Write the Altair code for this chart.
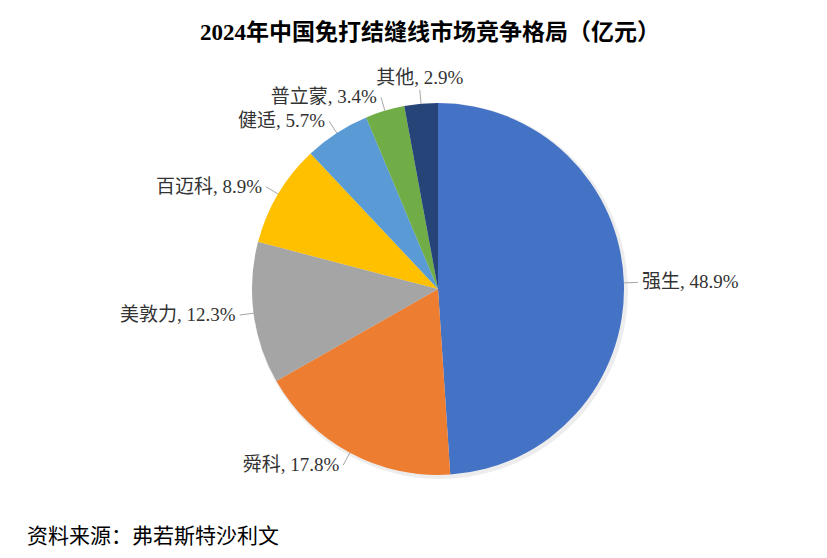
import altair as alt
import pandas as pd

TITLE = "2024年中国免打结缝线市场竞争格局（亿元）"
SOURCE = "资料来源：弗若斯特沙利文"
names = ["强生", "舜科", "美敦力", "百迈科", "健适", "普立蒙", "其他"]
shares = [48.9, 17.8, 12.3, 8.9, 5.7, 3.4, 2.9]
colors = ["#4472C4", "#ED7D31", "#A5A5A5", "#FFC000", "#5B9BD5", "#70AD47", "#264478"]

FONT = "Liberation Serif, Noto Sans CJK SC"
CX, CY, R, RL = 430, 281, 186, 200

df = pd.DataFrame({"name": names, "share": shares, "order": list(range(len(names)))})

shadow = alt.Chart(df).mark_arc(outerRadius=R + 2, color="#000000", opacity=0.07).encode(
    theta=alt.Theta("share:Q", stack=True),
    order=alt.Order("order:Q"),
    x=alt.value(CX + 2), y=alt.value(CY + 2),
)

pie = alt.Chart(df).mark_arc(outerRadius=R).encode(
    theta=alt.Theta("share:Q", stack=True),
    color=alt.Color("name:N", scale=alt.Scale(domain=names, range=colors), legend=None),
    order=alt.Order("order:Q"),
    x=alt.value(CX), y=alt.value(CY),
)

base = (
    alt.Chart(df)
    .transform_joinaggregate(total="sum(share)")
    .transform_window(cum="sum(share)", sort=[alt.SortField("order")], frame=[None, 0])
    .transform_calculate(mid="(datum.cum - datum.share/2)/datum.total*2*PI")
    .transform_calculate(
        ex=f"{CX} + {R}*sin(datum.mid)",
        ey=f"{CY} - {R}*cos(datum.mid)",
        lx=f"{CX} + {RL}*sin(datum.mid)",
        ly=f"{CY} - {RL}*cos(datum.mid)",
        s="sin(datum.mid)",
        label="datum.name + ', ' + format(datum.share, '.1f') + '%'",
    )
)

leaders = base.mark_rule(color="#A6A6A6", strokeWidth=1).encode(
    x=alt.X("ex:Q", scale=None, axis=None),
    y=alt.Y("ey:Q", scale=None, axis=None),
    x2="lx:Q",
    y2="ly:Q",
)

tstyle = dict(font=FONT, fontSize=19, color="#333333")
right = base.transform_filter("datum.s > 0.2").mark_text(
    align="left", baseline="middle", dx=4, **tstyle
).encode(x=alt.X("lx:Q", scale=None), y=alt.Y("ly:Q", scale=None), text="label:N")
left = base.transform_filter("datum.s < -0.2").mark_text(
    align="right", baseline="middle", dx=-4, **tstyle
).encode(x=alt.X("lx:Q", scale=None), y=alt.Y("ly:Q", scale=None), text="label:N")
top = base.transform_filter("abs(datum.s) <= 0.2").mark_text(
    align="center", baseline="bottom", dy=-2, **tstyle
).encode(x=alt.X("lx:Q", scale=None), y=alt.Y("ly:Q", scale=None), text="label:N")

title = alt.Chart(pd.DataFrame({"t": [TITLE]})).mark_text(
    font=FONT, fontSize=23, fontWeight="bold", align="center", baseline="middle", color="#000000"
).encode(text="t:N", x=alt.value(422), y=alt.value(25))

source = alt.Chart(pd.DataFrame({"t": [SOURCE]})).mark_text(
    font=FONT, fontSize=21, align="left", baseline="middle", color="#000000"
).encode(text="t:N", x=alt.value(19), y=alt.value(529))

chart = alt.layer(shadow, pie, leaders, right, left, top, title, source).properties(
    width=811, height=542, autosize=alt.AutoSizeParams(type="none"), padding=0
).configure_view(stroke=None)

chart.save("out.html", embed_options={"renderer": "svg", "actions": False})
